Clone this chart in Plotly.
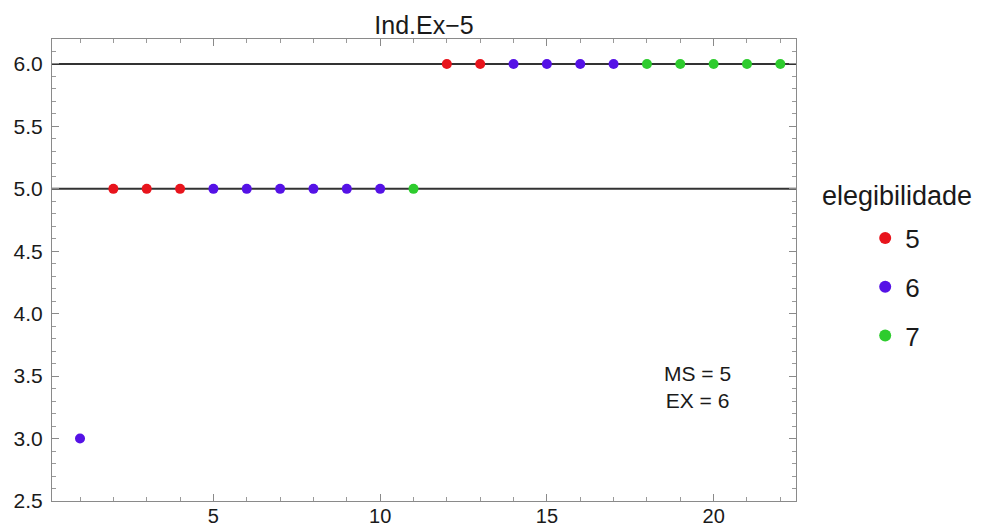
import plotly.graph_objects as go

# Data
x_vals = list(range(1, 23))
y_vals = [3, 5, 5, 5, 5, 5, 5, 5, 5, 5, 5, 6, 6, 6, 6, 6, 6, 6, 6, 6, 6, 6]
elegibilidade = [6, 5, 5, 5, 6, 6, 6, 6, 6, 6, 7, 5, 5, 6, 6, 6, 6, 7, 7, 7, 7, 7]
categories = [5, 6, 7]
cat_colors = {5: "#e8141c", 6: "#5512e6", 7: "#2ecc2e"}
ref_levels = [5, 6]
x_ticks = [5, 10, 15, 20]
y_ticks = [2.5, 3.0, 3.5, 4.0, 4.5, 5.0, 5.5, 6.0]
note_lines = ["MS = 5", "EX = 6"]
title_text = "Ind.Ex\u22125"
legend_title = "elegibilidade"

FONT = "Liberation Sans, Arial, Helvetica, sans-serif"
TXT = "#1a1a1a"

fig = go.Figure()
for c in categories:
    xs = [x for x, e in zip(x_vals, elegibilidade) if e == c]
    ys = [y for y, e in zip(y_vals, elegibilidade) if e == c]
    fig.add_trace(go.Scatter(
        x=xs, y=ys, mode="markers", name=str(c), legendgroup=f"g{c}",
        marker=dict(color=cat_colors[c], size=10, line=dict(width=0)),
    ))

for lv in ref_levels:
    fig.add_shape(type="line", xref="paper", x0=0, x1=1, yref="y", y0=lv, y1=lv,
                  line=dict(color="#333333", width=2), layer="below")

axis_common = dict(
    showgrid=False, zeroline=False, showline=True, linecolor="#8a8a8a", linewidth=1,
    mirror="ticks", ticks="inside", tickcolor="#8a8a8a", ticklen=7, tickwidth=1,
    automargin=False,
)

fig.update_xaxes(range=[0.16, 22.47], tickvals=x_ticks, ticktext=[str(v) for v in x_ticks],
                 minor=dict(dtick=1, tick0=0, ticks="inside", ticklen=4, tickcolor="#9a9a9a"),
                 tickfont=dict(family=FONT, size=20, color=TXT),
                 ticklabelstandoff=-3, **axis_common)
fig.update_yaxes(range=[2.5, 6.2], tickvals=y_ticks, ticktext=[f"{v:.1f}" for v in y_ticks],
                 minor=dict(dtick=0.1, tick0=0, ticks="inside", ticklen=4, tickcolor="#9a9a9a"),
                 tickfont=dict(family=FONT, size=21, color=TXT),
                 ticklabelstandoff=4, **axis_common)

fig.add_annotation(x=0.868, y=0.247, xref="paper", yref="paper",
                   xanchor="center", yanchor="middle",
                   text="<br>".join(note_lines), showarrow=False,
                   font=dict(family=FONT, size=21, color=TXT), align="center")

fig.add_annotation(x=1.136, y=0.66, xref="paper", yref="paper", text=legend_title,
                   showarrow=False, xanchor="center", yanchor="middle",
                   font=dict(family=FONT, size=27, color=TXT))

# page body has an 8px margin, so the figure is sized/offset to fill the 982x529 window
fig.update_layout(
    width=974, height=521,
    margin=dict(l=44, r=186, t=31, b=28, autoexpand=False),
    paper_bgcolor="white", plot_bgcolor="white",
    title=dict(text=title_text, x=0.5, xref="paper", xanchor="center",
               y=1 - 17 / 521, yanchor="middle",
               font=dict(family=FONT, size=25, color=TXT), automargin=False),
    legend=dict(x=1.093, xanchor="left", y=0.62, yanchor="top",
                font=dict(family=FONT, size=26, color=TXT),
                tracegroupgap=12, itemsizing="constant", bgcolor="rgba(0,0,0,0)"),
    showlegend=True,
)

fig.write_html("out.html")
